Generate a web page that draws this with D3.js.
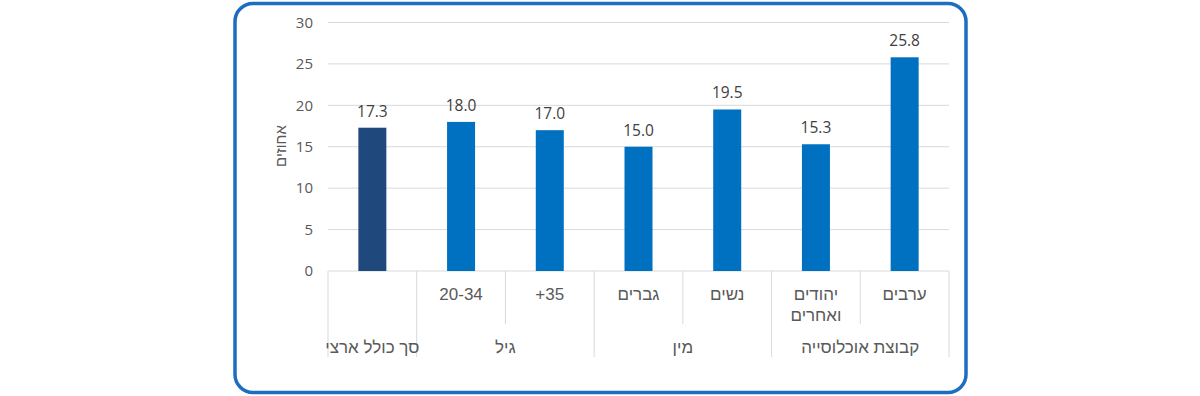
<!DOCTYPE html>
<html><head><meta charset="utf-8">
<script src="https://cdn.jsdelivr.net/npm/d3@7"></script>
<style>body{margin:0;background:#fff;} svg{display:block;}</style>
</head><body>
<svg id="c" width="1200" height="396"></svg>
<script>
const categories = ["סך כולל ארצי", "20-34", "+35", "גברים", "נשים", "יהודים|ואחרים", "ערבים"];
const values = [17.3, 18.0, 17.0, 15.0, 19.5, 15.3, 25.8];
const groupLabels = [
  {label: "סך כולל ארצי", start: 0, end: 0},
  {label: "גיל", start: 1, end: 2},
  {label: "מין", start: 3, end: 4},
  {label: "קבוצת אוכלוסייה", start: 5, end: 6}
];
const yTicks = [0, 5, 10, 15, 20, 25, 30];
const yTitle = "אחוזים";

(function () {
const svg = d3.select("#c");
svg.append("rect").attr("x", 235).attr("y", 3.5).attr("width", 731).attr("height", 389)
  .attr("rx", 18).attr("fill", "#fff").attr("stroke", "#1C6EBE").attr("stroke-width", 3.5);

const pLeft = 328, pRight = 949, pTop = 22.5, pBottom = 271;
const x = d3.scaleBand().domain(d3.range(categories.length)).range([pLeft, pRight]).paddingInner(0).paddingOuter(0);
const y = d3.scaleLinear().domain([0, 30]).range([pBottom, pTop]);

svg.append("g").selectAll("line").data(yTicks).join("line")
  .attr("x1", pLeft).attr("x2", pRight).attr("y1", d => y(d)).attr("y2", d => y(d))
  .attr("stroke", "#d9d9d9").attr("stroke-width", 1);

const yAxis = d3.axisLeft(y).tickValues(yTicks).tickSize(0).tickPadding(15);
const ga = svg.append("g").attr("transform", `translate(${pLeft},0)`).call(yAxis);
ga.select(".domain").remove();
ga.selectAll("text").attr("font-family", "'Open Sans', sans-serif").attr("font-size", 15).attr("fill", "#595959");

svg.append("text").attr("transform", `translate(286,146) rotate(-90)`)
  .attr("text-anchor", "middle").attr("font-family", "'Liberation Sans', Arial, sans-serif")
  .attr("font-size", 15).attr("fill", "#595959").text(yTitle);

const bw = 28;
svg.append("g").selectAll("rect").data(values).join("rect")
  .attr("x", (d, i) => x(i) + x.bandwidth() / 2 - bw / 2)
  .attr("width", bw)
  .attr("y", d => y(d)).attr("height", d => y(0) - y(d))
  .attr("fill", (d, i) => i === 0 ? "#1F497D" : "#0070C0");

svg.append("g").selectAll("text").data(values).join("text")
  .attr("x", (d, i) => x(i) + x.bandwidth() / 2)
  .attr("y", d => y(d) - 11)
  .attr("text-anchor", "middle").attr("font-family", "'Open Sans', sans-serif")
  .attr("font-size", 15.5).attr("fill", "#404040").text(d => d.toFixed(1));

const sepLong = 357, sepShort = 324;
const bounds = d3.range(categories.length + 1);
svg.append("g").selectAll("line").data(bounds).join("line")
  .attr("x1", i => i === categories.length ? pRight : x(i))
  .attr("x2", i => i === categories.length ? pRight : x(i))
  .attr("y1", pBottom)
  .attr("y2", i => {
    const isGroupEdge = i === 0 || i === categories.length || groupLabels.some(g => g.start === i);
    return isGroupEdge ? sepLong : sepShort;
  })
  .attr("stroke", "#d9d9d9").attr("stroke-width", 1);

const cg = svg.append("g");
categories.forEach((c, i) => {
  if (i === 0) return;
  const lines = c.split("|");
  const cx = x(i) + x.bandwidth() / 2;
  const t = cg.append("text").attr("x", cx).attr("y", 300)
    .attr("text-anchor", "middle").attr("font-family", "'Liberation Sans', Arial, sans-serif")
    .attr("font-size", 17).attr("fill", "#595959");
  lines.forEach((l, k) => {
    t.append("tspan").attr("x", cx).attr("dy", k === 0 ? 0 : 21).text(l);
  });
});

svg.append("g").selectAll("text").data(groupLabels).join("text")
  .attr("x", g => (x(g.start) + x(g.end) + x.bandwidth()) / 2)
  .attr("y", 353)
  .attr("text-anchor", "middle").attr("font-family", "'Liberation Sans', Arial, sans-serif")
  .attr("font-size", 17).attr("fill", "#595959").text(g => g.label);
})();
</script>
</body></html>
